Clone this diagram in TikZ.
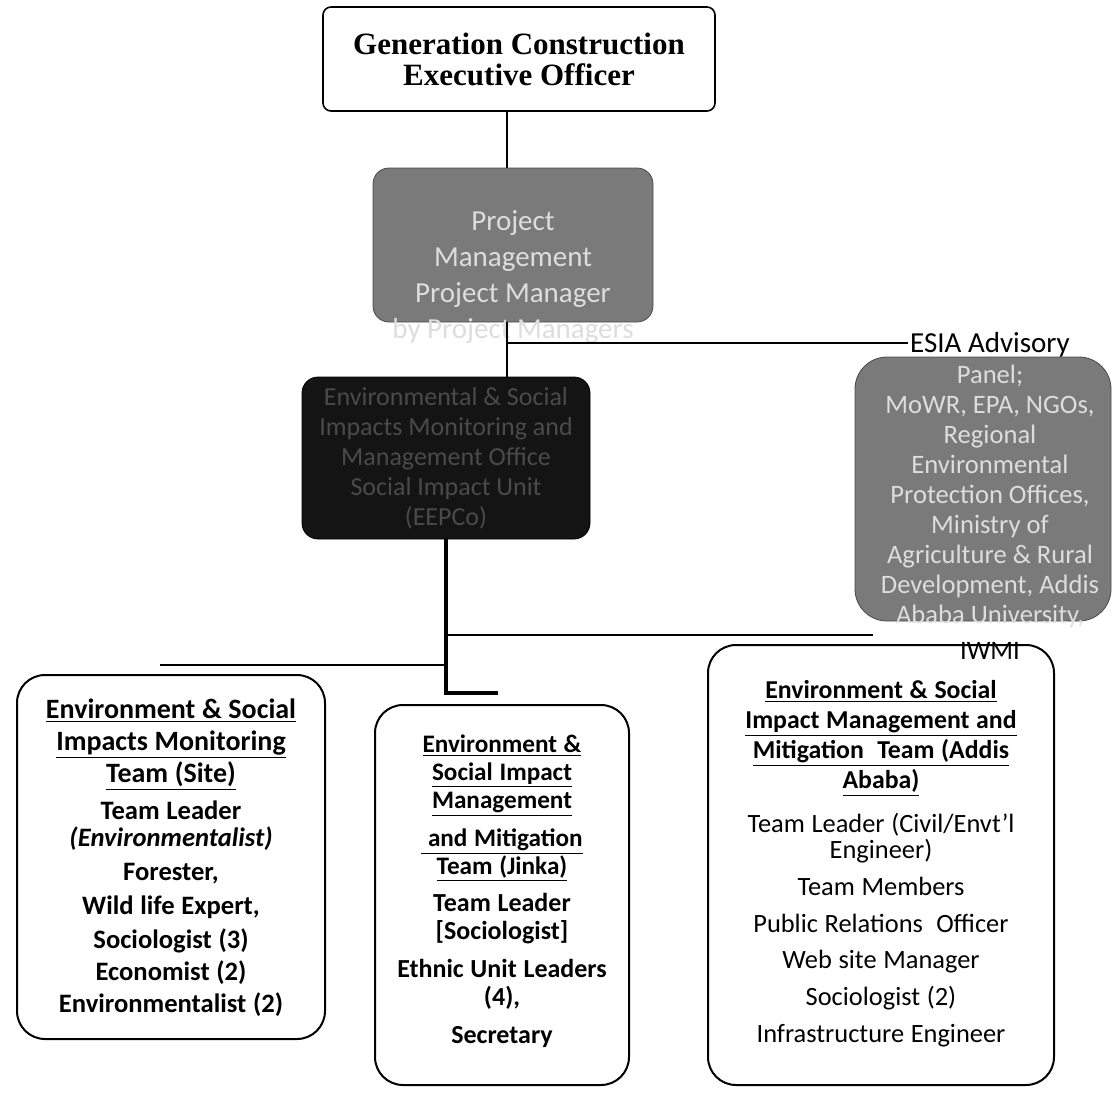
\documentclass[tikz,border=0pt]{standalone}
\usepackage{fontspec}
\setmainfont{Carlito}
\newfontfamily\headserif{Liberation Serif}
\usepackage{tikz}
\usetikzlibrary{positioning}

\definecolor{panelgray}{HTML}{7A7A7A}
\definecolor{paneltext}{HTML}{DDDDDD}
\definecolor{darkfill}{HTML}{141414}
\definecolor{darktext}{HTML}{4A4A4A}

\tikzset{
    teambox/.style={draw, rounded corners=14pt, line width=1pt, inner sep=0pt},
    teamtext/.style={align=center, inner sep=0pt, anchor=north},
    graybox/.style={fill=panelgray, draw=panelgray!60!black, inner sep=0pt},
    link/.style={draw, line width=1.1pt},
    trunk/.style={draw, line width=1.9pt}
}

\begin{document}
\begin{tikzpicture}[x=0.5pt, y=-0.5pt]
\useasboundingbox (0,0) rectangle (1115,1094);

% upper part of the chart
\node[draw, rounded corners=4pt, line width=0.8pt, minimum width=196pt, minimum height=52pt,
      align=center, font=\headserif\bfseries\fontsize{15.5}{15.5}\selectfont] (ceo) at (519,59)
      {Generation Construction\\Executive Officer};
\node[graybox, rounded corners=8pt, minimum width=140pt, minimum height=77pt] (pm) at (513,245) {};
\node[align=center, text=paneltext, inner sep=0pt, font=\fontsize{14.5}{18}\selectfont] (pmlbl)
      at (513,277) {Project\\Management\\Project Manager\\by Project Managers};
\node[fill=darkfill, draw=black, rounded corners=8pt, minimum width=144pt, minimum height=81pt,
      align=center, text=darktext, font=\fontsize{13}{15}\selectfont] (ims) at (446,458)
      {Environmental \& Social\\Impacts Monitoring and\\Management Office\\Social Impact Unit\\(EEPCo)};

% advisory panel
\node[graybox, rounded corners=16pt, minimum width=128pt, minimum height=132pt] (esia) at (983,489) {};
\node[anchor=base, inner sep=1pt, font=\fontsize{14.5}{14.5}\selectfont] (esiahd) at (990,352) {ESIA Advisory};
\node[below=3pt of esiahd, align=center, text=paneltext, inner sep=0pt,
      font=\fontsize{13.3}{15}\selectfont] (esialbl)
      {Panel;\\MoWR, EPA, NGOs,\\Regional\\Environmental\\Protection Offices,\\Ministry of\\Agriculture \& Rural\\Development, Addis\\Ababa University,\\[3pt]{\color{black}IWMI}};

% teams
\node[teambox, minimum width=154pt, minimum height=182pt] (lbox) at (171,857) {};
\node[teamtext, text width=152pt, below=12pt of lbox.north] (ltext)
      {\bfseries\fontsize{14}{16}\selectfont
       \underline{Environment \& Social}\\
       \underline{Impacts Monitoring}\\
       \underline{Team (Site)}\\[2.5pt]
       \fontsize{13.3}{16}\selectfont
       Team Leader\\[-2.5pt]
       \textit{(Environmentalist)}\\[1pt]
       Forester,\\[1pt]
       Wild life Expert,\\[1pt]
       Sociologist (3)\\
       Economist (2)\\
       Environmentalist (2)\par};

\node[teambox, minimum width=127pt, minimum height=190pt] (mbox) at (502,895) {};
\node[teamtext, text width=125pt, below=15pt of mbox.north] (mtext)
      {\bfseries\fontsize{12.6}{14}\selectfont
       \underline{Environment \&}\\
       \underline{Social Impact}\\
       \underline{Management}\\[5pt]
       \underline{\ and Mitigation}\\
       \underline{Team (Jinka)}\\[4.5pt]
       \fontsize{13}{14}\selectfont
       Team Leader\\
       {[Sociologist]}\\[5pt]
       Ethnic Unit Leaders\\
       (4),\\[5pt]
       Secretary\par};

\node[teambox, minimum width=173pt, minimum height=220pt] (rbox) at (881,865) {};
\node[teamtext, text width=172pt, below=18pt of rbox.north] (rtext)
      {\bfseries\fontsize{12.9}{15}\selectfont
       \underline{Environment \& Social}\\
       \underline{Impact Management and}\\
       \underline{Mitigation\ \ Team (Addis}\\
       \underline{Ababa)}\\[7pt]
       \mdseries\fontsize{13.2}{15}\selectfont
       Team Leader (Civil/Envt'l\\[-2pt]
       Engineer)\\[3.5pt]
       Team Members\\[3.5pt]
       Public Relations\ \ Officer\\[3pt]
       Web site Manager\\[3.5pt]
       Sociologist (2)\\[3.5pt]
       Infrastructure Engineer\par};

% connectors
\coordinate (spine) at (507,0);
\coordinate (pj) at (507,343);
\coordinate (lj) at (160,665);
\coordinate (rj) at (873,635);
\coordinate (tk) at (498,693);
\draw[link] (ceo.south -| spine) -- (pm.north -| spine);
\draw[link] (pm.south -| spine) -- (ims.north -| spine);
\draw[link] (pj) -- (esiahd.west |- pj);
\draw[trunk] (ims.south) |- (tk);
\draw[link] (ims.south |- rj) -- (rj);
\draw[link] (ims.south |- lj) -- (lj);
\end{tikzpicture}
\end{document}
